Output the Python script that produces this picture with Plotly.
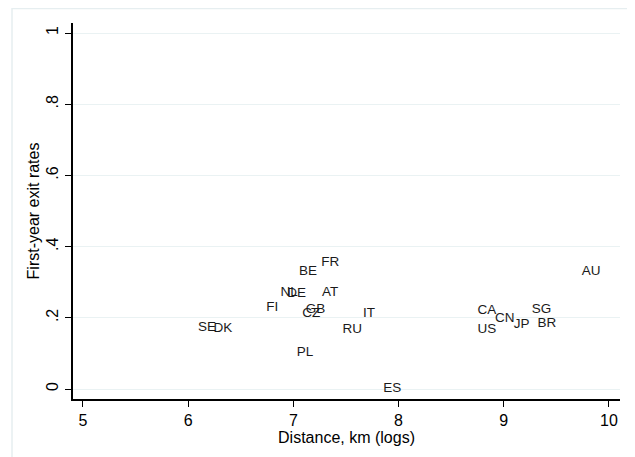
import plotly.graph_objects as go

countries = ["SE", "DK", "FI", "NL", "DE", "BE", "FR", "AT", "GB", "CZ", "IT", "RU", "PL", "ES",
             "CA", "US", "CN", "JP", "SG", "BR", "AU"]
log_distance = [6.18, 6.33, 6.80, 6.96, 7.03, 7.14, 7.35, 7.35, 7.21, 7.17, 7.72, 7.56, 7.11, 7.94,
                8.84, 8.84, 9.01, 9.17, 9.36, 9.41, 9.83]
exit_rate = [0.172, 0.169, 0.228, 0.270, 0.267, 0.329, 0.355, 0.272, 0.222, 0.213, 0.213, 0.166, 0.101, 0.0,
             0.219, 0.166, 0.197, 0.180, 0.222, 0.185, 0.329]

x_ticks = [5, 6, 7, 8, 9, 10]
y_ticks = [0, 0.2, 0.4, 0.6, 0.8, 1]
y_tick_labels = ["0", ".2", ".4", ".6", ".8", "1"]

fig = go.Figure()
fig.add_trace(go.Scatter(
    x=log_distance, y=exit_rate, text=countries, mode="text",
    textposition="middle center",
    textfont=dict(family="Liberation Sans, Arial, sans-serif", size=13.5, color="#1a1a1a"),
    cliponaxis=False, showlegend=False,
))

font = dict(family="Liberation Sans, Arial, sans-serif", size=16, color="#000000")

# page body has an 8px default margin, so the figure is sized to fit inside the window
fig.update_layout(
    width=627, height=449,
    margin=dict(l=65, r=15, t=15, b=58),
    paper_bgcolor="white", plot_bgcolor="white",
    font=font,
    xaxis=dict(
        range=[4.905, 10.105], tickvals=x_ticks, ticktext=[str(v) for v in x_ticks],
        showgrid=False, zeroline=False, showline=True, linecolor="black", linewidth=1.5,
        ticks="outside", ticklen=6, tickcolor="black", tickwidth=1,
        title=dict(text="Distance, km (logs)", font=font, standoff=0),
        tickfont=font, automargin=False,
    ),
    yaxis=dict(
        range=[-0.0281, 1.0281], tickvals=y_ticks, ticktext=y_tick_labels,
        showgrid=True, gridcolor="#eaf2f3", gridwidth=1, zeroline=False,
        showline=True, linecolor="black", linewidth=1.5,
        ticks="outside", ticklen=6, tickcolor="black", tickwidth=1,
        tickangle=-90, ticklabelstandoff=1,
        title=dict(text="First-year exit rates", font=font, standoff=0),
        tickfont=font, automargin=False,
    ),
    shapes=[dict(type="rect", xref="paper", yref="paper",
                 x0=-0.1115, x1=1.06, y0=-0.25, y1=1.0386,
                 line=dict(color="#e6eef0", width=1.5), fillcolor="rgba(0,0,0,0)",
                 layer="below")],
)

fig.write_html("out.html")
